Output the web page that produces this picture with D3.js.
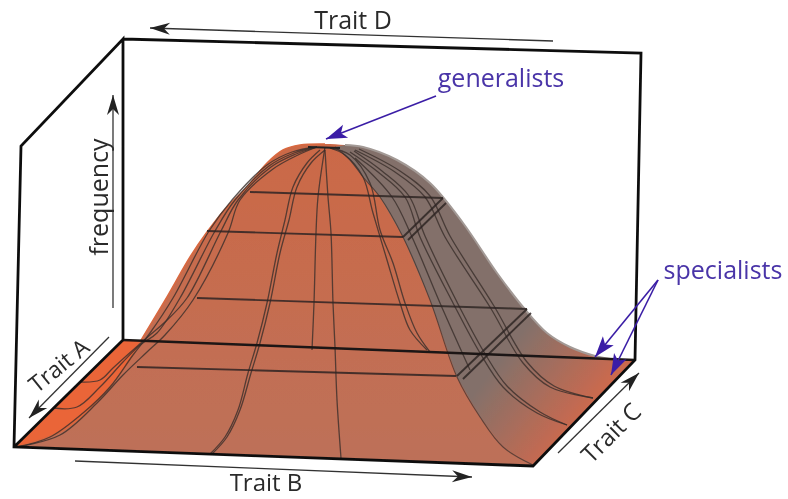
<!DOCTYPE html>
<html>

<head>
    <style>
        html, body { margin: 0; padding: 0; background: #fff; }
        svg { display: block; }
    </style>
</head>

<body>
    <script src="https://d3js.org/d3.v7.min.js"></script>
    <div id="chart"></div>
    <script>
        // every curve is a pair of lists: position along the trait axis, frequency
        const hullTrait = [2.8, 4, 13.4, 20, 25.4, 28.6, 33.4, 38, 41.4, 45.4, 49.4, 53.4, 56.6, 60, 65, 69, 72.6, 79.4, 86, 92.6, 99.4, 104.6, 109.4, 114, 119, 122]
        const hullFreq = [10.6, 10.8, 14.4, 20.4, 27.2, 32.6, 40.6, 48.6, 53.6, 58.6, 62.6, 67.4, 70, 71, 71.2, 71, 70.6, 68, 63.4, 55.4, 45.4, 38.6, 33.4, 30.6, 28.8, 28.2]
        const faceTrait = [67, 70, 72.6, 76, 80.6, 86, 91.4, 96, 100.6, 106.6]
        const faceFreq = [70.6, 68, 64.6, 60.6, 52.6, 40, 24.6, 16.6, 10.6, 7]

        const floorTrait = [2.8, 24.6, 127, 106.6]
        const floorFreq = [10.6, 32, 28, 6.8]
        const outlineTrait = [24.6, 128.2, 127, 106.6, 2.8, 4.2, 24.6, 24.6, 2.8]
        const outlineFreq = [92.2, 89.4, 28, 6.8, 10.6, 70.8, 92.2, 32, 10.6]
        const backEdgeTrait = [24.6, 127]
        const backEdgeFreq = [32, 28]

        // contour lines and the short links between them
        const contourTrait = [[50, 88.6], [41.4, 80.6], [39.4, 105.4], [27.4, 91.2], [80.6, 88.6], [81.6, 89.2], [91.4, 105.4], [92.6, 106.2]]
        const contourFreq = [[61.6, 60.4], [53.8, 52.6], [40.4, 38.2], [26.6, 24.8], [52.6, 60.4], [52, 59.4], [24.8, 38.2], [24.2, 37.4]]

        // ribs coming down from the peak
        const ribTrait = [
            [10.6, 15.4, 20, 24.6, 28, 31.4, 36, 43, 47, 53.8, 58.8, 63.4],
            [16, 20, 22.6, 26.6, 30, 33, 37.4, 44.2, 47.6, 54.2, 59.2, 63.4],
            [3.4, 10, 16.6, 22, 26.6, 30, 34.6, 41.8, 46.4, 53.4, 58.4, 63.4],
            [3.4, 12, 19.4, 24.6, 29.4, 33, 38.6, 45.6, 48, 54.6, 59.6, 63.4],
            [65, 63.6, 63.2, 62.8, 62.4],
            [65, 65.6, 66.2, 66.6, 67, 67.4, 68.2],
            [64, 61.4, 58.6, 57, 55.4, 53.4, 51.4, 49.6, 47.6, 45, 42],
            [65, 62.2, 59.4, 57.8, 56, 54, 52, 50.2, 48, 45.4, 42.4],
            [66, 69, 72.6, 74.6, 77.4, 80, 82, 85.4],
            [66, 70, 74, 76, 78.6, 81, 83.4, 86],
            [71, 78.4, 82.4, 88, 94],
            [70, 75.6, 81, 84, 90.6, 96, 100.6, 107.4, 113.4],
            [70.8, 76.4, 81.8, 85, 91.4, 96.8, 101.4, 108, 113.4],
            [71, 79, 85, 89, 98, 104.6, 110, 118.6],
            [71.8, 80, 86, 90, 98.8, 105.4, 110.8, 118.6]
        ]
        const ribFreq = [
            [18.4, 18.6, 22.6, 27.6, 31, 33.4, 40.4, 53.8, 60, 66.8, 69.4, 70.6],
            [23.6, 24, 26.4, 30, 33, 35.6, 40.4, 53.8, 60, 66.6, 69.2, 70.6],
            [10.6, 12.6, 17.4, 22.6, 29, 33.4, 40.4, 53.8, 60, 67, 69.6, 70.6],
            [10.6, 13, 19.4, 25, 29.6, 33, 40, 53.4, 60, 66.2, 69, 70.6],
            [70.6, 60.6, 53.4, 39.4, 30],
            [70, 60.6, 53.4, 39.4, 30.6, 20, 8.4],
            [70, 67.4, 62.6, 56, 49.4, 39.4, 31.4, 25.4, 18, 12.6, 9.2],
            [70, 67.4, 62.6, 56, 49.4, 39.4, 31.4, 25.4, 18, 12.6, 9.2],
            [70.4, 69, 64.6, 57.4, 48, 39.4, 34, 30],
            [70.4, 69, 63.4, 54, 47.4, 39.4, 33.4, 29.6],
            [68.4, 60.6, 52.6, 39.4, 26],
            [69.6, 65.6, 60.6, 52.6, 39.4, 29.4, 22.6, 17.4, 15],
            [69.8, 65.8, 60.8, 52.8, 39.6, 29.6, 22.8, 17.6, 15],
            [70, 65.6, 60.6, 52.6, 38.6, 27.4, 22.6, 20.4],
            [70.2, 65.8, 60.8, 52.8, 38.8, 27.6, 22.8, 20.4]
        ]
        const capTrait = [61.6, 68]
        const capFreq = [70.6, 70.4]

        // axis arrows, D, frequency, A, B, C
        const axisArrowTrait = [[110.6, 30], [22.6, 22.6], [21.8, 5.8], [15, 94.4], [111.6, 127.8]]
        const axisArrowFreq = [[91.8, 94.4], [38.4, 81], [32.6, 16.4], [7.8, 4.6], [9.4, 25.4]]
        // generalists, specialists x2
        const noteArrowTrait = [[87.2, 65.2], [131.6, 119], [131.6, 122.2]]
        const noteArrowFreq = [[80.8, 72.2], [44, 28.6], [44, 25]]

        const width = 788
        const height = 499

        const x = d3.scaleLinear().domain([0, 160]).range([0, 800])
        const y = d3.scaleLinear().domain([0, 100]).range([500, 0])

        const zip = (ts, fs) => ts.map((t, i) => [t, fs[i]])

        const straight = d3.line().x(d => x(d[0])).y(d => y(d[1]))
        const smooth = d3.line().x(d => x(d[0])).y(d => y(d[1])).curve(d3.curveCatmullRom.alpha(0.5))
        const joined = (first, rest) => first + "L" + straight(rest).slice(1)

        const svg = d3.select("#chart").append("svg")
            .attr("width", width)
            .attr("height", height)

        const defs = svg.append("defs")

        defs.append("filter")
            .attr("id", "soft")
            .attr("filterUnits", "userSpaceOnUse")
            .attr("x", 0).attr("y", 0)
            .attr("width", width).attr("height", height)
            .append("feGaussianBlur")
            .attr("stdDeviation", 0.6)

        const frontGrad = defs.append("linearGradient")
            .attr("id", "frontFill")
            .attr("gradientUnits", "userSpaceOnUse")
            .attr("x1", 0).attr("y1", 150)
            .attr("x2", 0).attr("y2", 460)
        frontGrad.append("stop").attr("offset", 0).attr("stop-color", "#cb6947")
        frontGrad.append("stop").attr("offset", 0.5).attr("stop-color", "#c56d50")
        frontGrad.append("stop").attr("offset", 1).attr("stop-color", "#bd7059")

        const sideGrad = defs.append("linearGradient")
            .attr("id", "sideFill")
            .attr("gradientUnits", "userSpaceOnUse")
            .attr("x1", 500).attr("y1", 360)
            .attr("x2", 590).attr("y2", 430)
        sideGrad.append("stop").attr("offset", 0).attr("stop-color", "#83706a")
        sideGrad.append("stop").attr("offset", 1).attr("stop-color", "#d5694a")

        const addHead = (id, color, len, half, notch) => {
            defs.append("marker")
                .attr("id", id)
                .attr("markerUnits", "userSpaceOnUse")
                .attr("viewBox", [-len - 1, -half - 1, len + 2, half * 2 + 2].join(" "))
                .attr("markerWidth", len + 2)
                .attr("markerHeight", half * 2 + 2)
                .attr("refX", 0)
                .attr("refY", 0)
                .attr("orient", "auto")
                .append("path")
                .attr("d", `M${-len},${-half}L0,0L${-len},${half}L${-len + notch},0Z`)
                .attr("fill", color)
        }
        addHead("headBlack", "#222", 20, 6, 6)
        addHead("headBlue", "#3b1fa6", 21, 7, 5)

        const g = svg.append("g").attr("filter", "url(#soft)")

        g.append("rect").attr("width", width).attr("height", height).attr("fill", "#fff")

        // floor
        g.append("path")
            .attr("d", straight(zip(floorTrait, floorFreq)) + "Z")
            .attr("fill", "#ea6539")

        // dome, whole outline first and then the shaded side over it
        const hull = zip(hullTrait, hullFreq)
        const peakAt = hullTrait.indexOf(69)
        const backRight = [floorTrait[2], floorFreq[2]]
        const frontRight = [floorTrait[3], floorFreq[3]]

        g.append("path")
            .attr("d", joined(smooth(hull), [backRight, frontRight]) + "Z")
            .attr("fill", "url(#frontFill)")

        g.append("path")
            .attr("d", joined(smooth(hull.slice(peakAt).reverse()), zip(faceTrait, faceFreq).concat([backRight])) + "Z")
            .attr("fill", "url(#sideFill)")

        // soft edge along the silhouette
        g.append("path")
            .attr("d", smooth(hull.slice(peakAt)))
            .attr("fill", "none")
            .attr("stroke", "#a39a96")
            .attr("stroke-width", 2)
        g.append("path")
            .attr("d", smooth(hull.slice(0, peakAt)))
            .attr("fill", "none")
            .attr("stroke", "#d9683f")
            .attr("stroke-width", 1.5)

        // mesh
        g.selectAll(".rib")
            .data(ribTrait.map((t, i) => zip(t, ribFreq[i])))
            .enter()
            .append("path")
            .attr("class", "rib")
            .attr("d", smooth)
            .attr("fill", "none")
            .attr("stroke", "#3a2e2b")
            .attr("stroke-opacity", 0.8)
            .attr("stroke-width", 1.3)

        g.append("path")
            .attr("d", smooth(zip(faceTrait, faceFreq)))
            .attr("fill", "none")
            .attr("stroke", "#3a2e2b")
            .attr("stroke-opacity", 0.7)
            .attr("stroke-width", 1.1)

        g.selectAll(".contour")
            .data(contourTrait.map((t, i) => zip(t, contourFreq[i])))
            .enter()
            .append("path")
            .attr("class", "contour")
            .attr("d", straight)
            .attr("fill", "none")
            .attr("stroke", "#2e2523")
            .attr("stroke-opacity", 0.85)
            .attr("stroke-width", 1.9)

        g.append("path")
            .attr("d", straight(zip(capTrait, capFreq)))
            .attr("stroke", "#222")
            .attr("stroke-width", 2)

        // box
        g.append("path")
            .attr("d", straight(zip(backEdgeTrait, backEdgeFreq)))
            .attr("stroke", "#1c1614")
            .attr("stroke-width", 2.6)
        g.append("path")
            .attr("d", straight(zip(outlineTrait, outlineFreq)))
            .attr("fill", "none")
            .attr("stroke", "#111")
            .attr("stroke-width", 2.8)
            .attr("stroke-linejoin", "miter")

        // arrows
        g.selectAll(".axis-arrow")
            .data(axisArrowTrait.map((t, i) => zip(t, axisArrowFreq[i])))
            .enter()
            .append("path")
            .attr("class", "axis-arrow")
            .attr("d", straight)
            .attr("stroke", "#333")
            .attr("stroke-width", 1.3)
            .attr("marker-end", "url(#headBlack)")

        g.selectAll(".note-arrow")
            .data(noteArrowTrait.map((t, i) => zip(t, noteArrowFreq[i])))
            .enter()
            .append("path")
            .attr("class", "note-arrow")
            .attr("d", straight)
            .attr("stroke", "#3b1fa6")
            .attr("stroke-width", 1.6)
            .attr("marker-end", "url(#headBlue)")

        // labels
        const addLabel = (text, px, py, angle, size, color) => {
            g.append("text")
                .text(text)
                .attr("transform", "translate(" + px + "," + py + ") rotate(" + angle + ")")
                .attr("text-anchor", "middle")
                .attr("font-family", "'Open Sans', sans-serif")
                .attr("font-size", size)
                .attr("fill", color)
        }
        addLabel("Trait D", 353, 29, 0, 25, "#2b2b2b")
        addLabel("Trait B", 266, 491, 0, 24, "#2b2b2b")
        addLabel("frequency", 108, 197, -90, 25, "#2b2b2b")
        addLabel("Trait A", 64, 372, -39, 23, "#2b2b2b")
        addLabel("Trait C", 617, 439, -45, 24, "#2b2b2b")
        addLabel("generalists", 501, 87, 0, 25, "#4a34a8")
        addLabel("specialists", 723, 279, 0, 25, "#4a34a8")
    </script>
</body>

</html>
